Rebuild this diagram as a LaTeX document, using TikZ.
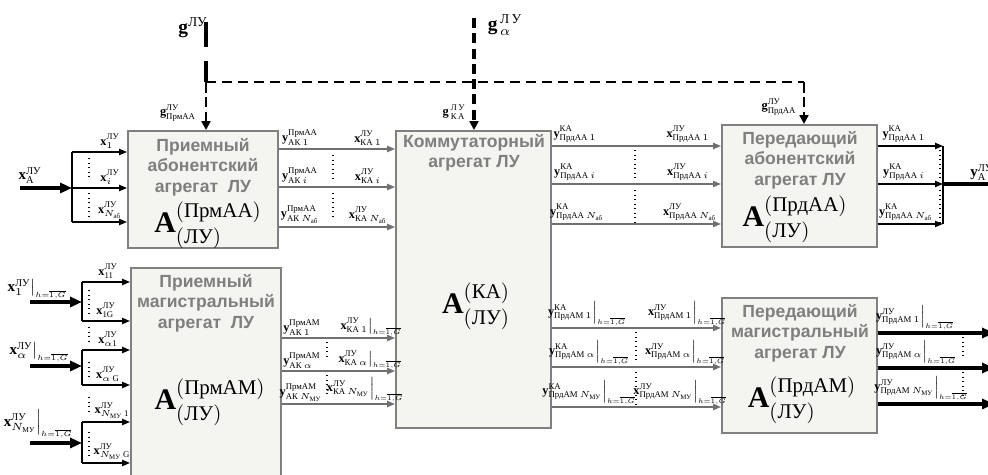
\RequirePackage{fix-cm}
\documentclass[tikz,border=0pt]{standalone}
\usepackage{amsmath}
\usepackage{fontspec}
\setmainfont{Liberation Serif}
\setsansfont{Liberation Sans}
\usetikzlibrary{arrows.meta,fit}
\DeclareMathSizes{7}{7}{5}{3.9}

\definecolor{blockfill}{HTML}{F4F4F0}
\definecolor{blockdraw}{HTML}{808080}
\definecolor{titlegray}{HTML}{7F7F7F}
\definecolor{linegray}{HTML}{707070}

\newcommand{\bv}[1]{\textbf{#1}}
\newcommand{\hG}{\scriptscriptstyle h=\overline{1,G}}

\tikzset{
  block/.style={draw=blockdraw, line width=1.1pt, fill=blockfill, inner sep=0pt},
  title/.style={font=\sffamily\bfseries\fontsize{10}{11.6}\selectfont, text=titlegray, align=center, inner sep=0pt},
  formula/.style={font=\fontsize{17}{20}\selectfont, inner sep=0pt},
  lbl/.style={font=\fontsize{7}{8}\selectfont, inner sep=0pt, anchor=south},
  glbl/.style={font=\fontsize{7}{8}\selectfont, inner sep=0pt},
  biglbl/.style={font=\fontsize{8.5}{10}\selectfont, inner sep=0pt, anchor=south},
  toplbl/.style={font=\fontsize{11}{13}\selectfont, inner sep=0pt},
  garrow/.style={draw=linegray, line width=0.9pt, -{Triangle[length=4.5pt,width=3.5pt]}},
  karrow/.style={line width=0.9pt, -{Triangle[length=4.5pt,width=3.5pt]}},
  fatarrow/.style={line width=2.2pt, -{Triangle[length=6.8pt,width=5.7pt]}},
  bus/.style={line width=1pt},
  dotsep/.style={dotted, line width=0.6pt},
  ctrltop/.style={line width=2pt, dash pattern=on 14pt off 8pt},
  ctrlh/.style={line width=1.5pt, dash pattern=on 5.7pt off 3.4pt},
  ctrlmid/.style={line width=1.9pt, dash pattern=on 5.7pt off 3pt, -{Triangle[length=5pt,width=5pt]}},
  ctrlin/.style={line width=1.6pt, dash pattern=on 6pt off 2.4pt, -{Triangle[length=5pt,width=5pt]}}
}

\begin{document}
\begin{tikzpicture}[x=0.02cm, y=-0.02cm]
    \useasboundingbox (0,0) rectangle (988,475);

    \node[block, fit={(128,131) (278,248)}] (paa) {};
    \node[block, fit={(131,268) (281,480)}] (pam) {};
    \node[block, fit={(396,131) (551,428)}] (ka) {};
    \node[block, fit={(722,125) (877,247)}] (pda) {};
    \node[block, fit={(722,298) (877,433)}] (pdm) {};

    \node[title] (paa-t) at (203,167) {Приемный\\абонентский\\агрегат\ \ ЛУ};
    \node[title] (pam-t) at (206,303) {Приемный\\магистральный\\агрегат\ \ ЛУ};
    \node[title] (ka-t) at (474,153) {Коммутаторный\\агрегат ЛУ};
    \node[title] (pda-t) at (800,160) {Передающий\\абонентский\\агрегат ЛУ};
    \node[title] (pdm-t) at (800,333) {Передающий\\магистральный\\агрегат ЛУ};

    \node[formula] (paa-f) at (208,225) {$\bv{A}^{(\text{ПрмАА})}_{(\text{ЛУ})}$};
    \node[formula] (pam-f) at (210,402) {$\bv{A}^{(\text{ПрмАМ})}_{(\text{ЛУ})}$};
    \node[formula] (ka-f) at (476,306) {$\bv{A}^{(\text{КА})}_{(\text{ЛУ})}$};
    \node[formula] (pda-f) at (795,219) {$\bv{A}^{(\text{ПрдАА})}_{(\text{ЛУ})}$};
    \node[formula] (pdm-f) at (802,400) {$\bv{A}^{(\text{ПрдАМ})}_{(\text{ЛУ})}$};

    % control inputs
    \node[toplbl] (g) at (193,28) {$\bv{g}^{\text{ЛУ}}$};
    \node[toplbl] (ga) at (505,25) {$\bv{g}^{\,\text{Л\,У}}_{\,\alpha}$};
    \coordinate (g-s) at (206,22);
    \coordinate (g-j) at (206,82);
    \coordinate (gp-j) at (804,82);
    \coordinate (ga-s) at (474,18);
    \draw[ctrltop] (g-s) -- (g-j);
    \draw[ctrlh] (g-j) -- (gp-j);
    \draw[ctrlin] (g-j) -- (g-j |- paa.north);
    \draw[ctrlin] (gp-j) -- (gp-j |- pda.north);
    \draw[ctrlmid] (ga-s) -- (ga-s |- ka.north);
    \node[glbl] (g-paa) at (178,113) {$\bv{g}^{\text{ЛУ}}_{\text{ПрмАА}}$};
    \node[glbl] (g-ka) at (454,112) {$\bv{g}^{\,\text{Л\,У}}_{\,\text{К\,А}}$};
    \node[glbl] (g-pda) at (779,107) {$\bv{g}^{\text{ЛУ}}_{\text{ПрдАА}}$};

    % subscriber receiving aggregate
    \node[biglbl] (xa) at (30,184) {$\bv{x}^{\text{ЛУ}}_{\text{А}}$};
    \coordinate (xa-s) at (20,188);
    \coordinate (xa-b) at (72,188);
    \draw[fatarrow] (xa-s) -- (xa-b);
    \draw[bus] (xa-b |- 0,152) -- (xa-b |- 0,222);
    \foreach \yy in {152,188,222}
        \draw[karrow] (xa-b |- 0,\yy) -- (paa.west |- 0,\yy);
    \node[lbl] (x1) at (110,149) {$\bv{x}^{\text{ЛУ}}_{1}$};
    \node[lbl] (xi) at (110,185) {$\bv{x}^{\text{ЛУ}}_{i}$};
    \node[lbl] (xn) at (110,219) {$\bv{x}^{\text{ЛУ}}_{N_{\text{аб}}}$};
    \draw[dotsep] (89,158) -- (89,180) (89,193) -- (89,217);

    \foreach \yy in {149,187,227}
        \draw[garrow] (paa.east |- 0,\yy) -- (ka.west |- 0,\yy);
    \node[lbl] (yaa1) at (300,146) {$\bv{y}^{\text{ПрмАА}}_{\text{АК}\,1}$};
    \node[lbl] (yaai) at (300,184) {$\bv{y}^{\text{ПрмАА}}_{\text{АК}\,i}$};
    \node[lbl] (yaan) at (300,224) {$\bv{y}^{\text{ПрмАА}}_{\text{АК}\,N_{\text{аб}}}$};
    \node[lbl] (xka1) at (368,146) {$\bv{x}^{\text{ЛУ}}_{\text{КА}\,1}$};
    \node[lbl] (xkai) at (368,184) {$\bv{x}^{\text{ЛУ}}_{\text{КА}\,i}$};
    \node[lbl] (xkan) at (368,224) {$\bv{x}^{\text{ЛУ}}_{\text{КА}\,N_{\text{аб}}}$};
    \draw[dotsep] (333,155) -- (333,182) (333,193) -- (333,220);

    % trunk receiving aggregate
    \foreach \ya/\yb/\yc/\g in {282/321/302/1, 350/385/366/2, 422/463/443/3} {
        \coordinate (in\g-s) at (30,\yc);
        \coordinate (in\g-b) at (82,\yc);
        \draw[fatarrow] (in\g-s) -- (in\g-b);
        \draw[bus] (in\g-b |- 0,\ya) -- (in\g-b |- 0,\yb);
        \draw[karrow] (in\g-b |- 0,\ya) -- (pam.west |- 0,\ya);
        \draw[karrow] (in\g-b |- 0,\yb) -- (pam.west |- 0,\yb);
    }
    \node[biglbl] (xm1) at (36,299) {$\left.\bv{x}^{\text{ЛУ}}_{1}\right|_{\hG}$};
    \node[biglbl] (xma) at (38,362) {$\left.\bv{x}^{\text{ЛУ}}_{\alpha}\right|_{\hG}$};
    \node[biglbl] (xmn) at (37,438) {$\left.\bv{x}^{\text{ЛУ}}_{N_{\text{МУ}}}\right|_{\hG}$};
    \node[lbl] (x11) at (108,279) {$\bv{x}^{\text{ЛУ}}_{\text{11}}$};
    \node[lbl] (x1g) at (106,318) {$\bv{x}^{\text{ЛУ}}_{\text{1G}}$};
    \node[lbl] (xa1) at (108,347) {$\bv{x}^{\text{ЛУ}}_{\alpha\text{1}}$};
    \node[lbl] (xag) at (108,382) {$\bv{x}^{\text{ЛУ}}_{\alpha\,\text{G}}$};
    \node[lbl] (xn1) at (112,419) {$\bv{x}^{\text{ЛУ}}_{N_{\text{МУ}}\,\text{1}}$};
    \node[lbl] (xng) at (112,460) {$\bv{x}^{\text{ЛУ}}_{N_{\text{МУ}}\,\text{G}}$};
    \draw[dotsep] (89,290) -- (89,313) (89,327) -- (89,345) (89,362) -- (89,380)
        (89,397) -- (89,415) (89,432) -- (89,458);

    \foreach \yy in {338,371,404}
        \draw[garrow] (pam.east |- 0,\yy) -- (ka.west |- 0,\yy);
    \node[lbl] (yam1) at (302,336) {$\bv{y}^{\text{ПрмАМ}}_{\text{АК}\,1}$};
    \node[lbl] (yama) at (302,369) {$\bv{y}^{\text{ПрмАМ}}_{\text{АК}\,\alpha}$};
    \node[lbl] (yamn) at (301,402) {$\bv{y}^{\text{ПрмАМ}}_{\text{АК}\,N_{\text{МУ}}}$};
    \node[lbl] (xkm1) at (370,336) {$\left.\bv{x}^{\text{ЛУ}}_{\text{КА}\,1}\right|_{\hG}$};
    \node[lbl] (xkma) at (369,369) {$\left.\bv{x}^{\text{ЛУ}}_{\text{КА}\,\alpha}\right|_{\hG}$};
    \node[lbl] (xkmn) at (364,402) {$\left.\bv{x}^{\text{ЛУ}}_{\text{КА}\,N_{\text{МУ}}}\right|_{\hG}$};
    \draw[dotsep] (327,342) -- (327,357) (327,375) -- (327,397);

    % switching aggregate outputs
    \foreach \yy in {146,184,224}
        \draw[garrow] (ka.east |- 0,\yy) -- (pda.west |- 0,\yy);
    \node[lbl] (yka1) at (575,143) {$\bv{y}^{\text{КА}}_{\text{ПрдАА}\,1}$};
    \node[lbl] (ykai) at (575,181) {$\bv{y}^{\text{КА}}_{\text{ПрдАА}\,i}$};
    \node[lbl] (ykan) at (577,221) {$\bv{y}^{\text{КА}}_{\text{ПрдАА}\,N_{\text{аб}}}$};
    \node[lbl] (xpa1) at (688,143) {$\bv{x}^{\text{ЛУ}}_{\text{ПрдАА}\,1}$};
    \node[lbl] (xpai) at (688,181) {$\bv{x}^{\text{ЛУ}}_{\text{ПрдАА}\,i}$};
    \node[lbl] (xpan) at (690,221) {$\bv{x}^{\text{ЛУ}}_{\text{ПрдАА}\,N_{\text{аб}}}$};
    \draw[dotsep] (635,150) -- (635,178) (635,190) -- (635,222);

    \foreach \yy in {328,367,407}
        \draw[garrow] (ka.east |- 0,\yy) -- (pdm.west |- 0,\yy);
    \node[lbl] (ykm1) at (586,326) {$\left.\bv{y}^{\text{КА}}_{\text{ПрдАМ}\,1}\right|_{\hG}$};
    \node[lbl] (ykma) at (588,365) {$\left.\bv{y}^{\text{КА}}_{\text{ПрдАМ}\,\alpha}\right|_{\hG}$};
    \node[lbl] (ykmn) at (588,405) {$\left.\bv{y}^{\text{КА}}_{\text{ПрдАМ}\,N_{\text{МУ}}}\right|_{\hG}$};
    \node[lbl] (xpm1) at (686,326) {$\left.\bv{x}^{\text{ЛУ}}_{\text{ПрдАМ}\,1}\right|_{\hG}$};
    \node[lbl] (xpma) at (684,365) {$\left.\bv{x}^{\text{ЛУ}}_{\text{ПрдАМ}\,\alpha}\right|_{\hG}$};
    \node[lbl] (xpmn) at (679,405) {$\left.\bv{x}^{\text{ЛУ}}_{\text{ПрдАМ}\,N_{\text{МУ}}}\right|_{\hG}$};
    \draw[dotsep] (636,332) -- (636,362) (636,372) -- (636,405);

    % transmitting aggregates
    \coordinate (ya-b) at (943,184);
    \coordinate (ya-e) at (1000,184);
    \foreach \yy in {146,184,224}
        \draw[karrow] (pda.east |- 0,\yy) -- (ya-b |- 0,\yy);
    \draw[bus] (ya-b |- 0,146) -- (ya-b |- 0,224);
    \draw[line width=2.2pt] (ya-b) -- (ya-e);
    \node[lbl] (ypa1) at (904,143) {$\bv{y}^{\text{КА}}_{\text{ПрдАА}\,1}$};
    \node[lbl] (ypai) at (904,181) {$\bv{y}^{\text{КА}}_{\text{ПрдАА}\,i}$};
    \node[lbl] (ypan) at (906,221) {$\bv{y}^{\text{КА}}_{\text{ПрдАА}\,N_{\text{аб}}}$};
    \node[biglbl, anchor=south west] (ya) at (970,181) {$\bv{y}^{\text{ЛУ}}_{\text{А}}$};
    \draw[dotsep] (940,150) -- (940,180) (940,190) -- (940,222);

    \coordinate (ym-e) at (994,0);
    \foreach \yy in {333,368,404}
        \draw[fatarrow] (pdm.east |- 0,\yy) -- (ym-e |- 0,\yy);
    \node[lbl] (ypm1) at (914,330) {$\left.\bv{y}^{\text{ЛУ}}_{\text{ПрдАМ}\,1}\right|_{\hG}$};
    \node[lbl] (ypma) at (915,365) {$\left.\bv{y}^{\text{ЛУ}}_{\text{ПрдАМ}\,\alpha}\right|_{\hG}$};
    \node[lbl] (ypmn) at (920,401) {$\left.\bv{y}^{\text{ЛУ}}_{\text{ПрдАМ}\,N_{\text{МУ}}}\right|_{\hG}$};
    \draw[dotsep] (963,337) -- (963,358) (963,372) -- (963,395);
\end{tikzpicture}
\end{document}
